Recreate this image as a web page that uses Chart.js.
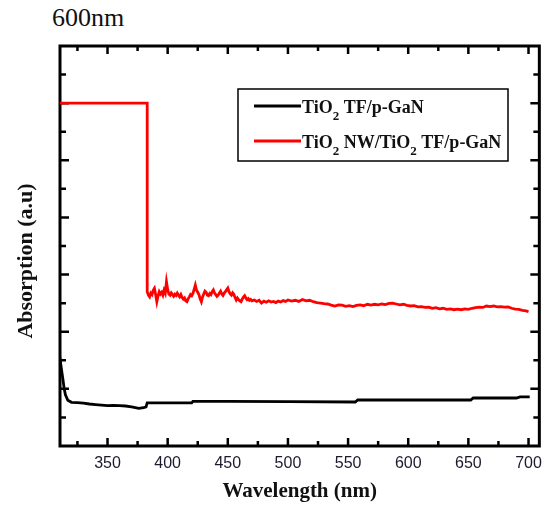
<!DOCTYPE html>
<html>
<head>
<meta charset="utf-8">
<title>Absorption spectra</title>
<script src="https://cdn.jsdelivr.net/npm/chart.js@4.4.0/dist/chart.umd.min.js"></script>
<style>
  body { margin: 0; background: #fff; }
  #wrap { position: relative; width: 550px; height: 510px; }
  #caption { position: absolute; left: 52px; top: 3px; font: 26px 'Liberation Serif', serif; color: #111; }
  canvas { position: absolute; left: 0; top: 0; }
</style>
</head>
<body>
<div id="wrap">
  <div id="caption">600nm</div>
  <canvas id="myChart" width="550" height="510"></canvas>
</div>
<script>
'use strict';

// TiO2 thin film on p-GaN
let wavelengthsTF = [310, 311, 312, 313, 314, 315, 317, 320, 325, 330, 335, 340, 345, 350, 355, 360, 365, 370, 376, 380, 382,
  383, 400, 420, 421, 450, 500, 556, 558, 600, 652, 654, 690, 693, 701];
let absorptionTF = [0.24, 0.29, 0.26, 0.231, 0.2, 0.179, 0.16, 0.153, 0.152, 0.15, 0.147, 0.145, 0.143, 0.141, 0.142, 0.141, 0.14, 0.137, 0.132, 0.134, 0.137,
  0.151, 0.151, 0.151, 0.156, 0.156, 0.155, 0.154, 0.161, 0.161, 0.161, 0.168, 0.168, 0.172, 0.172];

// TiO2 nanowires on TiO2 thin film on p-GaN
let wavelengthsNW = [310, 383,
  383, 384, 385, 386, 387, 388, 389, 390, 391, 392, 393, 394, 395, 396, 397, 398, 399, 400,
  401, 402, 403, 404, 405, 406, 407, 408, 409, 410, 411, 412, 413, 414, 415, 416, 417, 418, 419, 420,
  421, 422, 423, 424, 425, 426, 427, 428, 429, 430, 431, 432, 433, 434, 435, 436, 437, 438, 439, 440,
  441, 442, 443, 444, 445, 446, 447, 448, 449, 450, 451, 452, 453, 454, 455, 456, 457, 458, 459, 460,
  461, 462, 463, 464, 465, 466, 467, 468, 469, 470,
  472, 474, 476, 478, 480, 482, 484, 486, 488, 490, 492, 494, 496, 498, 500,
  503, 506, 509, 512, 515, 518, 521, 524, 527, 530, 533, 536, 539, 542, 545, 548, 551, 554, 557, 560,
  563, 566, 569, 572, 575, 578, 581, 584, 587, 590, 593, 596, 599, 602, 605, 608, 611, 614, 617, 620,
  623, 626, 629, 632, 635, 638, 641, 644, 647, 650, 653, 656, 659, 662, 665, 668, 671, 674, 677, 680,
  683, 686, 689, 692, 695, 698, 700];
let absorptionNW = [1.2, 1.2,
  0.54, 0.528, 0.522, 0.535, 0.53, 0.545, 0.552, 0.53, 0.505, 0.525, 0.54, 0.532, 0.538, 0.528, 0.545, 0.535, 0.575, 0.548,
  0.532, 0.528, 0.536, 0.53, 0.524, 0.531, 0.527, 0.535, 0.528, 0.522, 0.53, 0.52, 0.514, 0.518, 0.508, 0.505, 0.515, 0.522, 0.53, 0.526,
  0.534, 0.548, 0.563, 0.545, 0.538, 0.53, 0.515, 0.505, 0.522, 0.532, 0.542, 0.538, 0.528, 0.526, 0.534, 0.53, 0.54, 0.546, 0.535, 0.53,
  0.524, 0.528, 0.536, 0.542, 0.532, 0.527, 0.535, 0.54, 0.547, 0.553, 0.54, 0.532, 0.528, 0.536, 0.531, 0.52, 0.511, 0.518, 0.512, 0.508,
  0.505, 0.514, 0.521, 0.526, 0.518, 0.512, 0.516, 0.51, 0.513, 0.508,
  0.511, 0.506, 0.51, 0.5, 0.507, 0.503, 0.508, 0.504, 0.506, 0.502, 0.507, 0.504, 0.509, 0.506, 0.511,
  0.507, 0.51, 0.506, 0.513, 0.508, 0.51, 0.505, 0.502, 0.5, 0.498, 0.497, 0.493, 0.49, 0.494, 0.493, 0.489, 0.491, 0.488, 0.492, 0.494,
  0.491, 0.496, 0.493, 0.496, 0.494, 0.497, 0.495, 0.499, 0.5, 0.497, 0.494, 0.496, 0.492, 0.49, 0.491, 0.487, 0.488, 0.485, 0.486, 0.482,
  0.484, 0.48, 0.482, 0.478, 0.48, 0.477, 0.479, 0.477, 0.48, 0.478, 0.482, 0.484, 0.486, 0.485, 0.49, 0.488, 0.49, 0.487, 0.488, 0.486,
  0.487, 0.482, 0.479, 0.478, 0.475, 0.473, 0.47];

let seriesNames = ['TiO_2 TF/p-GaN', 'TiO_2 NW/TiO_2 TF/p-GaN'];
let seriesColors = ['#000000', '#ff0000'];

let xTickLabels = [350, 400, 450, 500, 550, 600, 650, 700];
let xMinorTicks = [325, 375, 425, 475, 525, 575, 625, 675];
let yMajorTicks = [0.2, 0.4, 0.6, 0.8, 1.0, 1.2];
let yMinorTicks = [0.1, 0.3, 0.5, 0.7, 0.9, 1.1, 1.3];

const ctx = document.getElementById('myChart').getContext('2d');

function toPoints(xs, ys) {
  let pts = [];
  for (let i = 0; i < xs.length; i++) {
    pts.push({ x: xs[i], y: ys[i] });
  }
  return pts;
}

// draws text where "_2" becomes a subscript 2
function drawRichText(c, text, x, y) {
  let parts = text.split(/_(\d)/);
  for (let i = 0; i < parts.length; i++) {
    if (i % 2 === 1) {
      c.font = 'bold 13px "Liberation Serif", serif';
      c.fillText(parts[i], x, y + 7);
    } else {
      c.font = 'bold 18px "Liberation Serif", serif';
      c.fillText(parts[i], x, y);
    }
    x += c.measureText(parts[i]).width;
  }
}

// frame with inward ticks on all four sides
const framePlugin = {
  id: 'framePlugin',
  beforeDatasetsDraw(chart) {
    const c = chart.ctx;
    const a = chart.chartArea;
    const xs = chart.scales.x;
    const ys = chart.scales.y;
    c.save();
    c.strokeStyle = '#000';
    c.lineWidth = 2.5;
    c.beginPath();
    xTickLabels.concat(xMinorTicks).forEach(v => {
      const px = xs.getPixelForValue(v);
      const len = xTickLabels.includes(v) ? 8 : 5;
      c.moveTo(px, a.bottom); c.lineTo(px, a.bottom - len);
      c.moveTo(px, a.top); c.lineTo(px, a.top + len);
    });
    yMajorTicks.concat(yMinorTicks).forEach(v => {
      const py = ys.getPixelForValue(v);
      const len = yMajorTicks.includes(v) ? 9 : 6;
      c.moveTo(a.left, py); c.lineTo(a.left + len, py);
      c.moveTo(a.right, py); c.lineTo(a.right - len, py);
    });
    c.stroke();
    c.lineWidth = 3;
    c.strokeRect(a.left, a.top, a.right - a.left, a.bottom - a.top);
    c.restore();
  },
  afterDatasetsDraw(chart) {
    const c = chart.ctx;
    const a = chart.chartArea;
    c.save();
    // legend box
    const lx = a.left + 178;
    const ly = a.top + 43;
    c.strokeStyle = '#000';
    c.lineWidth = 1.5;
    c.strokeRect(lx, ly, 270, 72);
    c.textBaseline = 'alphabetic';
    for (let i = 0; i < seriesNames.length; i++) {
      const rowY = ly + 17 + i * 35;
      c.strokeStyle = seriesColors[i];
      c.lineWidth = 3;
      c.beginPath();
      c.moveTo(lx + 16, rowY);
      c.lineTo(lx + 63, rowY);
      c.stroke();
      c.fillStyle = '#111';
      drawRichText(c, seriesNames[i], lx + 64, rowY + 7);
    }
    // y axis title
    c.translate(32, 261);
    c.rotate(-Math.PI / 2);
    c.textAlign = 'center';
    c.font = 'bold 22px "Liberation Serif", serif';
    c.fillText('Absorption (a.u)', 0, 0);
    c.restore();
  }
};

let chartObject = {
  type: 'line',
  data: {
    datasets: [{
      label: 'TiO2 TF/p-GaN',
      data: toPoints(wavelengthsTF, absorptionTF),
      borderColor: seriesColors[0],
      borderWidth: 2.8,
      pointRadius: 0,
      tension: 0
    },
    {
      label: 'TiO2 NW/TiO2 TF/p-GaN',
      data: toPoints(wavelengthsNW, absorptionNW),
      borderColor: seriesColors[1],
      borderWidth: 2.8,
      pointRadius: 0,
      tension: 0
    }]
  },
  options: {
    responsive: false,
    animation: false,
    layout: { padding: { top: 46, right: 6, left: 0, bottom: 0 } },
    plugins: {
      legend: { display: false },
      tooltip: { enabled: false }
    },
    scales: {
      x: {
        type: 'linear',
        min: 310.5,
        max: 709,
        grid: { display: false, drawTicks: false },
        border: { display: false },
        afterBuildTicks: s => { s.ticks = xTickLabels.map(v => ({ value: v })); },
        afterFit: s => { s.height = 64; },
        ticks: {
          padding: 8,
          maxRotation: 0,
          color: '#1b1b2f',
          font: { family: '"Liberation Sans", Arial, sans-serif', size: 16 }
        },
        title: {
          display: true,
          text: 'Wavelength (nm)',
          color: '#111',
          font: { family: '"Liberation Serif", serif', size: 21, weight: 'bold' },
          padding: { top: 0, bottom: 6 }
        }
      },
      y: {
        min: 0,
        max: 1.4,
        grid: { display: false, drawTicks: false },
        border: { display: false },
        ticks: { display: false },
        afterFit: s => { s.width = 60; }
      }
    }
  },
  plugins: [framePlugin]
};

new Chart(ctx, chartObject);
</script>
</body>
</html>
